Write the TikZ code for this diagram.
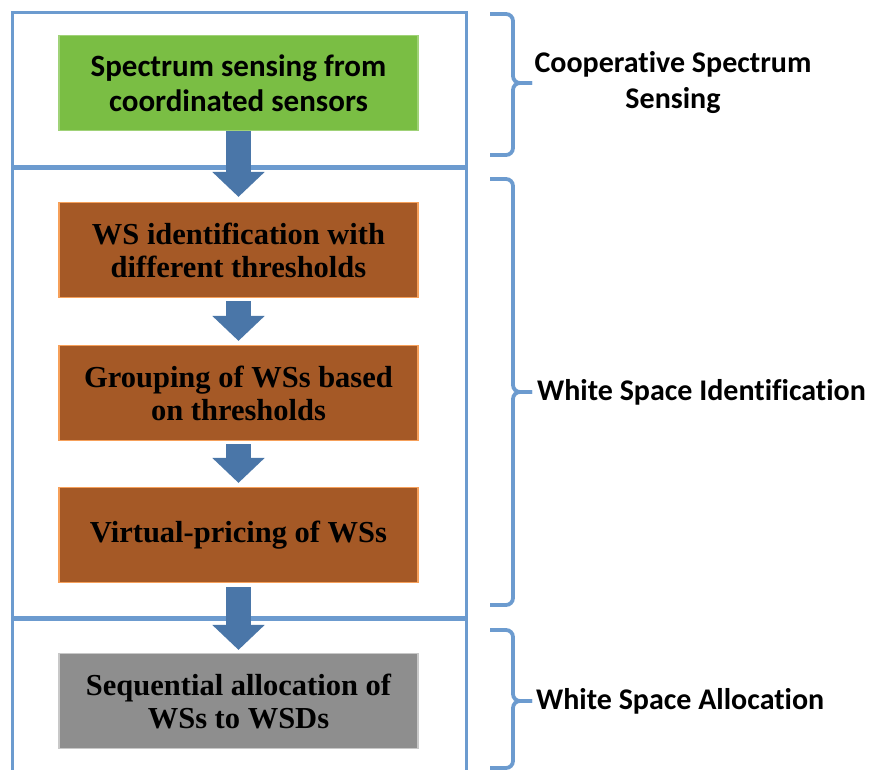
\documentclass[tikz,border=0pt]{standalone}
\usepackage{fontspec}
\setmainfont{Carlito}[Ligatures=NoCommon]
\newfontfamily\boxserif{Liberation Serif}
\usetikzlibrary{arrows.meta,calc}
\definecolor{frameblue}{RGB}{108,155,207}
\definecolor{arrowblue}{RGB}{74,118,168}
\definecolor{greenfill}{RGB}{122,190,68}
\definecolor{greenline}{RGB}{160,210,120}
\definecolor{brownfill}{RGB}{165,89,38}
\definecolor{brownline}{RGB}{246,160,90}
\definecolor{grayfill}{RGB}{142,142,142}
\definecolor{grayline}{RGB}{200,200,200}
\tikzset{
  frame/.style={draw=frameblue, line width=3pt},
  bracec/.style={draw=frameblue, line width=3.8pt, rounded corners=7pt},
  stepbox/.style={minimum width=359pt, minimum height=95pt, line width=1.2pt, align=center, inner sep=0pt},
  greenbox/.style={stepbox, fill=greenfill, draw=greenline, font=\fontsize{31}{35}\selectfont\bfseries},
  brownbox/.style={stepbox, fill=brownfill, draw=brownline, font=\boxserif\fontsize{30.5}{33}\selectfont\bfseries},
  graybox/.style={stepbox, fill=grayfill, draw=grayline, font=\boxserif\fontsize{30.5}{33}\selectfont\bfseries},
  flow/.style={draw=arrowblue, line width=25pt, -{Triangle[width=51pt,length=25pt]}},
  label/.style={font=\fontsize{30}{36}\selectfont\bfseries, align=center, inner sep=0pt}
}
\begin{document}
\begin{tikzpicture}[x=1pt,y=-1pt]
\useasboundingbox (0,0) rectangle (871,770);
% frames
\draw[frame] (12,13) rectangle (466,167);
\draw[frame] (12,169) rectangle (466,617);
\draw[frame] (12,775) -- (12,619) -- (466,619) -- (466,775);
% boxes
\node[greenbox] (g) at (238.5,83) {Spectrum sensing from\\coordinated sensors};
\node[brownbox] (b1) at (238.5,250) {WS identification with\\different thresholds};
\node[brownbox] (b2) at (238.5,393) {Grouping of WSs based\\on thresholds};
\node[brownbox] (b3) at (238.5,535) {Virtual-pricing of WSs};
\node[graybox] (s) at (238.5,701) {Sequential allocation of\\WSs to WSDs};
% arrows
\draw[flow, shorten >=5pt] (g.south) -- (b1.north);
\draw[flow, shorten <=3pt, shorten >=4pt] (b1.south) -- (b2.north);
\draw[flow, shorten <=3pt, shorten >=4pt] (b2.south) -- (b3.north);
\draw[flow, shorten <=4pt, shorten >=3pt] (b3.south) -- (s.north);
% braces
\coordinate (t1) at (532,83);
\coordinate (t2) at (532,392);
\coordinate (t3) at (532,701);
\draw[bracec] (490,14) -- (513,14) -- (513,83) -- (t1);
\draw[bracec] (490,155) -- (513,155) -- (513,83) -- (t1);
\draw[bracec] (490,179) -- (513,179) -- (513,392) -- (t2);
\draw[bracec] (490,605) -- (513,605) -- (513,392) -- (t2);
\draw[bracec] (490,630) -- (513,630) -- (513,701) -- (t3);
\draw[bracec] (490,768) -- (513,768) -- (513,701) -- (t3);
% labels
\node[label] (l1) at (673,83) {Cooperative Spectrum\\Sensing};
\node[label, anchor=west] (l2) at (537,392) {White Space Identification};
\node[label, anchor=west] (l3) at (536,701) {White Space Allocation};
\end{tikzpicture}
\end{document}
